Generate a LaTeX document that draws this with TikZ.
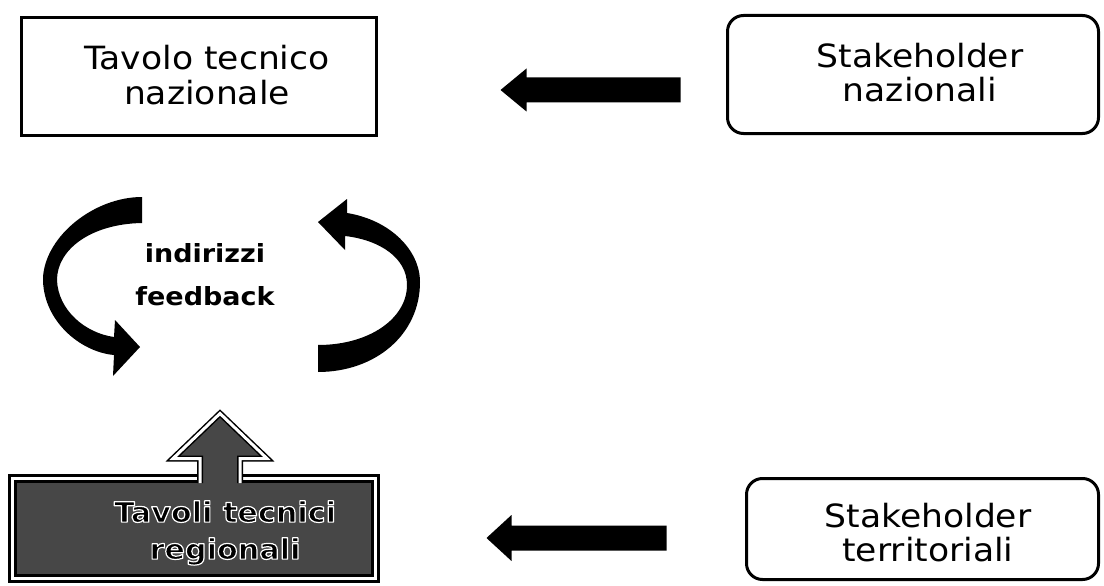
\documentclass[tikz,border=0pt]{standalone}
\usepackage{fontspec}
\setmainfont{DejaVu Sans}[FakeStretch=1.08]
\usetikzlibrary{calc}
\newcommand\myleftarrow[5]{% tail, tip, shaft half, head half, head length
  \fill let \p1=(#1), \p2=(#2) in
    (\x1,\y2+#3) -- (\x2+#5,\y2+#3) -- (\x2+#5,\y2+#4) -- (\x2,\y2)
    -- (\x2+#5,\y2-#4) -- (\x2+#5,\y2-#3) -- (\x1,\y2-#3) -- cycle;}
\newcommand\haloon{\special{pdf:literal q 2 Tr 1 1 1 RG 1.2 w 1 j}}
\newcommand\halooff{\special{pdf:literal Q}}
\begin{document}
\begin{tikzpicture}[x=1pt,y=-1pt,
  box/.style={draw=black, line width=3pt, fill=white, inner sep=0pt},
  sbox/.style={box, rounded corners=16pt},
  txt/.style={align=center, font=\fontsize{32}{34.5}\selectfont, inner sep=0pt},
  texfill/.style={fill=black!72},
  dbl/.style={draw=black, double=white},
]
\useasboundingbox (0,0) rectangle (1104,586);

% boxes
\node[box, minimum width=355pt, minimum height=118pt] (tavNbox) at (199,76.5) {};
\node[txt] (tavN) at (207,75) {Tavolo tecnico\\nazionale};

\node[sbox, minimum width=371pt, minimum height=118pt] (stakeNbox) at (913,74.5) {};
\node[txt] (stakeN) at (920,72.5) {Stakeholder\\nazionali};

\node[sbox, minimum width=352pt, minimum height=101pt] (stakeTbox) at (922.5,529) {};
\node[txt] (stakeT) at (928,532.5) {Stakeholder\\territoriali};

\node[dbl, line width=3pt, double distance=3pt, texfill, inner sep=0pt,
      minimum width=363pt, minimum height=100pt] (tavRbox) at (194,528.5) {};

% hollow up arrow from the regional box
\coordinate (upB) at ($(tavRbox.north)+(26,6)$);
\coordinate (upT) at ($(tavRbox.north)+(26,-63.5)$);
\path[texfill] let \p1=(upB), \p2=(upT) in
  (\x1-20pt,\y1) -- (\x1-20pt,\y2-45pt) -- (\x1-47pt,\y2-45pt) -- (\x2,\y2)
  -- (\x1+47pt,\y2-45pt) -- (\x1+20pt,\y2-45pt) -- (\x1+20pt,\y1) -- cycle;
\draw[dbl, line width=1.5pt, double distance=3pt, line join=miter] let \p1=(upB), \p2=(upT) in
  (\x1-20pt,\y1) -- (\x1-20pt,\y2-45pt) -- (\x1-47pt,\y2-45pt) -- (\x2,\y2)
  -- (\x1+47pt,\y2-45pt) -- (\x1+20pt,\y2-45pt) -- (\x1+20pt,\y1);

% block arrows
\coordinate (a1s) at ($(stakeNbox.west)+(-45.5,15)$);
\coordinate (a1t) at ($(tavNbox.east)+(122.5,13.5)$);
\myleftarrow{a1s}{a1t}{12.5pt}{21.5pt}{26pt}

\coordinate (a2s) at ($(stakeTbox.west)+(-78.5,9)$);
\coordinate (a2t) at ($(tavRbox.east)+(109.5,9.5)$);
\myleftarrow{a2s}{a2t}{12.5pt}{23pt}{25pt}

% cycle arrows
\fill (142,197) .. controls (95,197) and (46,235) .. (43,277)
  .. controls (42,320) and (80,352) .. (114,355) -- (113,376) -- (140,347)
  -- (115,320) -- (114,337) .. controls (85,333) and (58,310) .. (57,280)
  .. controls (57,250) and (90,224) .. (142,223) -- cycle;
\fill (318,345) .. controls (370,345) and (407,318) .. (407,285)
  .. controls (407,258) and (380,240) .. (345,236) -- (345,250) -- (318,222)
  -- (347,199) -- (347,213) .. controls (390,220) and (420,250) .. (420,282)
  .. controls (420,335) and (375,372) .. (318,372) -- cycle;

\node[align=center, inner sep=0pt, font=\bfseries\fontsize{25}{43}\selectfont] (cyc) at (205,275) {indirizzi\\feedback};

\node[txt, font=\bfseries\fontsize{28}{37}\selectfont] (tavR) at (225,533)
  {\haloon Tavoli tecnici\\regionali\halooff};
\end{tikzpicture}
\end{document}
